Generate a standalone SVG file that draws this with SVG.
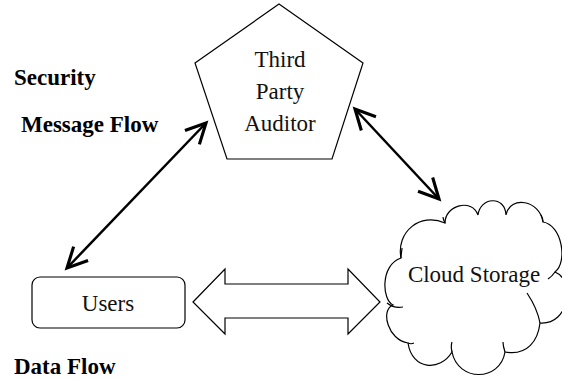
<svg xmlns="http://www.w3.org/2000/svg" width="562" height="380" viewBox="0 0 562 380">
<defs>
<style>
.shape{fill:#fff;stroke:#000;stroke-width:1.2}
.lbl{font-size:23px;fill:#111;text-anchor:middle}
.bold{font-size:23px;font-weight:bold;fill:#000}
.conn{stroke:#000;stroke-width:2.5;fill:none}
</style>
<marker id="ah" markerUnits="userSpaceOnUse" markerWidth="30" markerHeight="30" refX="0" refY="0" viewBox="-20 -12 24 24" orient="auto-start-reverse" overflow="visible">
<path d="M-16,-8 L0,0 L-16,8" fill="none" stroke="#000" stroke-width="2.5" stroke-linejoin="miter"/>
</marker>
</defs>
<rect width="562" height="380" fill="#fff"/>
<g id="labels" font-family="Liberation Serif, DejaVu Serif, serif">
<text class="bold" x="14" y="85">Security</text>
<text class="bold" x="21" y="132">Message Flow</text>
<text class="bold" x="14" y="374">Data Flow</text>
</g>
<g id="auditor" font-family="Liberation Serif, DejaVu Serif, serif">
<polygon class="shape" points="279,4 363,63 332,159 227,159 195,63"/>
<text class="lbl" x="280" y="67">Third</text>
<text class="lbl" x="280" y="99">Party</text>
<text class="lbl" x="280" y="131">Auditor</text>
</g>
<g id="users" font-family="Liberation Serif, DejaVu Serif, serif">
<rect class="shape" x="32" y="277" width="153" height="51" rx="8"/>
<text class="lbl" x="108" y="311">Users</text>
</g>
<g id="cloud" font-family="Liberation Serif, DejaVu Serif, serif">
<path class="shape" d="M393,305 C382,300 380,265 401,258 C396,232 420,212 445,223 C445,205 472,198 478,215 C480,197 505,195 506,215 C510,195 540,200 543,222 C562,225 568,262 555,272 C575,280 570,325 540,323 C538,340 528,356 505,352 C500,382 458,382 452,352 C440,372 412,370 408,343 C388,340 380,310 393,305 Z"/>
<path d="M387,303 C392,307 398,308 403,307 M408,343 C410,344 412,344 414,343 M452,352 C451,348 451,345 452,342 M505,352 C504,349 503,346 503,342 M527,293 C533,302 538,312 540,323 M401,258 C401,254 402,250 402,248 M445,223 C444,221 443,219 443,217 M543,222 C543,219 542,217 541,215 M555,272 C553,275 551,277 548,279" fill="none" stroke="#000" stroke-width="1.2"/>
<text class="lbl" x="474" y="282">Cloud Storage</text>
</g>
<g id="connectors">
<line class="conn" x1="67" y1="268" x2="206" y2="123" marker-start="url(#ah)" marker-end="url(#ah)"/>
<line class="conn" x1="355" y1="109" x2="439" y2="199" marker-start="url(#ah)" marker-end="url(#ah)"/>
<polygon class="shape" points="193,302 225,269 225,284 348,284 348,269 380,302 348,334 348,318 225,318 225,334"/>
</g>
</svg>
